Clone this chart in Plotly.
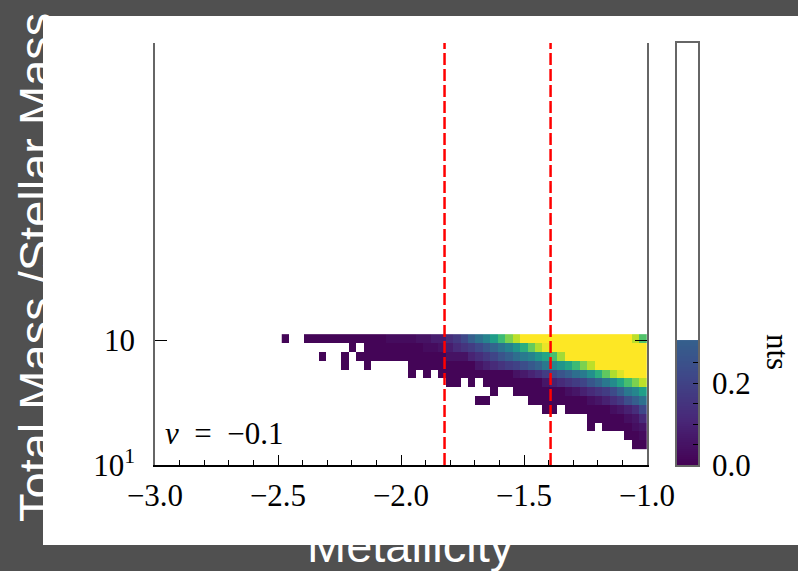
import plotly.graph_objects as go

E = None  # empty bin

# ---- heatmap bins (Metallicity columns, log mass-ratio rows) ----
bin_width = 0.0303
x_first_edge = -2.4847
n_cols = 49
x_edges = [round(x_first_edge + bin_width * i, 4) for i in range(n_cols + 1)]

row_height = 0.021
y_first_edge = 1.037
n_rows = 13
y_edges = [round(y_first_edge + row_height * i, 4) for i in range(n_rows + 1)]

# rows listed from top (highest mass ratio) to bottom
row_00 = [0.01, E, E] + [0.01]*11 + [0.03]*4 + [0.05]*2 + [0.08]*2 + \
         [0.13, 0.17, 0.22, 0.30, 0.37, 0.45, 0.55, 0.68, 0.80, 0.90] + [1.0]*15 + [0.90, 0.72]
row_01 = [E]*9 + [0.01, E] + [0.01]*8 + [0.03]*2 + [0.05] + \
         [0.08, 0.12, 0.15, 0.18, 0.22, 0.27, 0.32, 0.38, 0.44, 0.52, 0.62, 0.76, 0.88, 0.97] + [1.0]*13
row_02 = [E]*5 + [0.01, E, E, 0.01, E] + [0.01]*12 + [0.05]*3 + \
         [0.10, 0.13, 0.17, 0.21, 0.26, 0.30, 0.36, 0.41, 0.45, 0.52, 0.58, 0.70, 0.86] + [1.0]*11
row_03 = [E]*8 + [0.01, E, E, 0.01] + [E]*5 + [0.01]*9 + \
         [0.06, 0.09, 0.12, 0.15, 0.18, 0.20, 0.24, 0.28, 0.32, 0.40, 0.46, 0.52, 0.58, 0.68, 0.80, 0.90] + [1.0]*7
row_04 = [E]*17 + [0.01, E, 0.01, E] + [0.01]*10 + \
         [0.05, 0.07, 0.10, 0.13, 0.18, 0.22, 0.26, 0.30, 0.36, 0.41, 0.50, 0.62, 0.75, 0.88, 0.95] + [1.0]*3
row_05 = [E]*22 + [0.01, 0.01, E, 0.01, E] + [0.01]*8 + \
         [0.06, 0.09, 0.12, 0.15, 0.18, 0.21, 0.27, 0.32, 0.40, 0.48, 0.58, 0.70, 0.80, 0.90]
row_06 = [E]*28 + [0.01, E, E] + [0.01]*7 + \
         [0.04, 0.06, 0.09, 0.12, 0.15, 0.18, 0.23, 0.30, 0.40, 0.46, 0.56]
row_07 = [E]*26 + [0.01, 0.01] + [E]*5 + [0.01]*8 + \
         [0.04, 0.06, 0.09, 0.13, 0.17, 0.24, 0.30, 0.37]
row_08 = [E]*35 + [0.01, 0.01, E] + [0.01]*6 + [0.04, 0.06, 0.09, 0.13, 0.22]
row_09 = [E]*41 + [0.01]*5 + [0.04, 0.06, 0.12]
row_10 = [E]*41 + [0.01, E] + [0.01]*4 + [0.04, 0.06]
row_11 = [E]*46 + [0.01, 0.01, 0.03]
row_12 = [E]*47 + [0.01, 0.01]

rows_top_to_bottom = [row_00, row_01, row_02, row_03, row_04, row_05, row_06,
                      row_07, row_08, row_09, row_10, row_11, row_12]
z = list(reversed(rows_top_to_bottom))

# ---- vertical reference lines ----
ref_lines_x = [-1.823, -1.392]

# ---- ticks ----
x_tickvals = [-3.0, -2.5, -2.0, -1.5, -1.0]
x_ticktext = ["−3.0", "−2.5", "−2.0", "−1.5", "−1.0"]
y_tickvals = [1.0, 1.296]
y_ticktext = ["10<sup>1</sup>", "10"]

# ---- colorbar (drawn as its own small axis) ----
cb_fill_top = 0.305
cb_step = 0.005
cb_edges = [round(cb_step * i, 4) for i in range(int(round(cb_fill_top / cb_step)) + 1)]
cb_z = [[(cb_edges[i] + cb_edges[i + 1]) / 2] for i in range(len(cb_edges) - 1)]
cb_tickvals = [0.0, 0.05, 0.10, 0.15, 0.20, 0.25]
cb_ticktext = ["0.0", "", "", "", "0.2", ""]

SERIF = "Liberation Serif"
SANS = "Liberation Sans"
FS = 31

fig = go.Figure()
fig.add_trace(go.Heatmap(x=x_edges, y=y_edges, z=z, colorscale="Viridis",
                         zmin=0, zmax=1, showscale=False, xaxis="x", yaxis="y",
                         hoverongaps=False))
fig.add_trace(go.Heatmap(x=[0, 1], y=cb_edges, z=cb_z, colorscale="Viridis",
                         zmin=0, zmax=1, showscale=False, xaxis="x2", yaxis="y2"))

W, H = 798, 571
L, R, T, B = 155, 100, 43, 106
pw = W - L - R
ph = H - T - B

def px(xp):
    return (xp - L) / pw

def py(yp):
    return (H - B - yp) / ph

shapes = [dict(type="rect", xref="paper", yref="paper",
               x0=px(43), x1=px(798), y0=py(545), y1=py(16),
               fillcolor="white", line=dict(width=0), layer="below")]
for xv in ref_lines_x:
    shapes.append(dict(type="line", xref="x", yref="paper", x0=xv, x1=xv, y0=0, y1=1,
                       line=dict(color="#ff0000", width=2.5, dash="12px,4px")))

annotations = [
    dict(text="Total Mass /Stellar Mass", xref="paper", yref="paper",
         x=px(35), y=py(268), textangle=-90, showarrow=False,
         font=dict(family=SANS, size=47, color="white"), xanchor="center", yanchor="middle"),
    dict(text="Metallicity", xref="paper", yref="paper",
         x=px(410), y=py(545.5), showarrow=False,
         font=dict(family=SANS, size=47, color="white"), xanchor="center", yanchor="middle"),
    dict(text="nts", xref="paper", yref="paper", x=px(778), y=py(352), textangle=90,
         showarrow=False, font=dict(family=SERIF, size=FS, color="black"),
         xanchor="center", yanchor="middle"),
    dict(text="<i>v</i>\u2002=\u2002−0.1", xref="x", yref="y", x=-2.966, y=1 + (465 - 433) / ph,
         showarrow=False, font=dict(family=SERIF, size=FS, color="black"),
         xanchor="left", yanchor="middle"),
]

fig.update_layout(
    width=W, height=H,
    margin=dict(l=L, r=R, t=T, b=B, pad=0),
    paper_bgcolor="#505050", plot_bgcolor="rgba(0,0,0,0)",
    showlegend=False,
    shapes=shapes, annotations=annotations,
    xaxis=dict(domain=[0, px(647)], range=[-3.0, -1.0], anchor="y",
               tickmode="array", tickvals=x_tickvals, ticktext=x_ticktext,
               ticks="inside", ticklen=10, tickwidth=1, tickcolor="black",
               minor=dict(ticks="inside", ticklen=5, tickmode="linear", tick0=-3.0,
                          dtick=0.1, tickcolor="black", tickwidth=1, showgrid=False),
               showline=True, linecolor="black", linewidth=1.5, mirror=False,
               showgrid=False, zeroline=False, ticklabelstandoff=2,
               tickfont=dict(family=SERIF, size=FS, color="black")),
    yaxis=dict(domain=[0, 1], range=[1.0, 2.0], anchor="x",
               tickmode="array", tickvals=y_tickvals, ticktext=y_ticktext,
               ticks="inside", ticklen=12, tickwidth=1, tickcolor="black",
               showline=True, linecolor="#666666", linewidth=1.5, mirror="ticks",
               showgrid=False, zeroline=False, ticklabelstandoff=12,
               tickfont=dict(family=SERIF, size=FS, color="black")),
    xaxis2=dict(domain=[px(677), 1.0], range=[0, 1], anchor="y2",
                showticklabels=False, ticks="", showline=True, mirror=True,
                linecolor="#666666", linewidth=1.5, showgrid=False, zeroline=False),
    yaxis2=dict(domain=[0, 1], range=[0, 1.03], anchor="x2", side="right",
                tickmode="array", tickvals=cb_tickvals, ticktext=cb_ticktext,
                ticks="inside", ticklen=5, tickwidth=1, tickcolor="black",
                showline=True, mirror=True, linecolor="#666666", linewidth=1.5,
                showgrid=False, zeroline=False, ticklabelstandoff=6,
                tickfont=dict(family=SERIF, size=FS, color="black")),
)

fig.write_html("out.html")
